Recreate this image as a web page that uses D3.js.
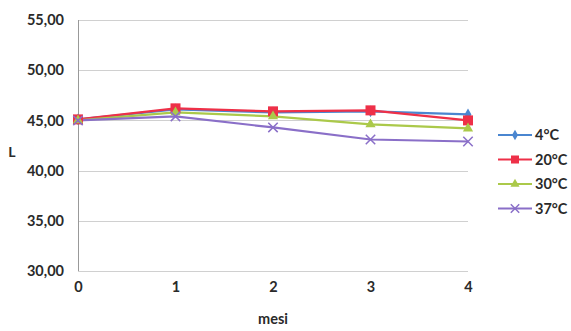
<!DOCTYPE html>
<html>
<head>
<meta charset="utf-8">
<title>L - mesi</title>
<script src="https://cdn.jsdelivr.net/npm/d3@7"></script>
<style>
  body { margin: 0; background: #fff; }
  text { font-family: Lato, "Open Sans", sans-serif; fill: #2a2a2a; font-weight: bold; }
  .tick text { font-size: 14.5px; }
  .grid line { stroke: #d0d0d0; shape-rendering: crispEdges; }
  .grid path { display: none; }
</style>
</head>
<body>
<div id="chart"></div>
<script>
// data
var months = [0, 1, 2, 3, 4];
var yTicks = [30, 35, 40, 45, 50, 55];
var labels = ["4°C", "20°C", "30°C", "37°C"];
var s4  = [45.1, 46.1, 45.8, 45.9, 45.6];
var s20 = [45.1, 46.2, 45.9, 46.0, 45.0];
var s30 = [45.0, 45.8, 45.4, 44.6, 44.2];
var s37 = [45.0, 45.4, 44.3, 43.1, 42.9];
var colors = ["#4a86d0", "#ee3048", "#abc94a", "#8a6fc8"];

var series = [s4, s20, s30, s37];

var w = 571, h = 331;
var svg = d3.select("#chart").append("svg")
  .attr("width", w).attr("height", h);

var x = d3.scaleLinear().domain([0, 4]).range([78, 468]);
var y = d3.scaleLinear().domain([30, 55]).range([271, 20]);

// horizontal grid lines
svg.append("g")
  .attr("class", "grid")
  .attr("transform", "translate(78,0)")
  .call(d3.axisLeft(y).tickValues(yTicks).tickSize(-390).tickFormat(""));

// left axis line
svg.append("line")
  .attr("x1", 78).attr("x2", 78).attr("y1", 20).attr("y2", 271)
  .attr("stroke", "#999").attr("shape-rendering", "crispEdges");

// y axis labels
var yAxis = svg.append("g")
  .attr("transform", "translate(78,0)")
  .call(d3.axisLeft(y).tickValues(yTicks).tickSize(0).tickPadding(14)
    .tickFormat(function(d) { return d3.format(".2f")(d).replace(".", ","); }));
yAxis.select(".domain").remove();

// x axis labels
var xAxis = svg.append("g")
  .attr("transform", "translate(0,271)")
  .call(d3.axisBottom(x).tickValues(months).tickSize(0).tickPadding(11)
    .tickFormat(d3.format("d")));
xAxis.select(".domain").remove();

svg.append("text").attr("x", 273).attr("y", 324)
  .attr("text-anchor", "middle").style("font-size", "14.5px").text("mesi");
svg.append("text").attr("x", 12).attr("y", 157)
  .attr("text-anchor", "middle").style("font-size", "14px").text("L");

var line = d3.line()
  .x(function(d, i) { return x(months[i]); })
  .y(function(d) { return y(d); });

function marker(g, k, cx, cy, big) {
  var c = colors[k];
  var s = big ? 1 : 0.8;
  if (k === 0) {
    g.append("path").attr("d", d3.symbol(d3.symbolDiamond, 40 * s)())
      .attr("transform", "translate(" + cx + "," + cy + ")")
      .attr("fill", c);
  } else if (k === 1) {
    g.append("rect").attr("x", cx - 5 * s).attr("y", cy - 5 * s)
      .attr("width", 10 * s).attr("height", 10 * s).attr("fill", c);
  } else if (k === 2) {
    g.append("path").attr("d", d3.symbol(d3.symbolTriangle, 45 * s)())
      .attr("transform", "translate(" + cx + "," + cy + ")")
      .attr("fill", c);
  } else {
    g.append("path").attr("d", d3.symbol(d3.symbolX, 60 * s)())
      .attr("transform", "translate(" + cx + "," + cy + ")")
      .attr("fill", "none").attr("stroke", c).attr("stroke-width", 1.5);
  }
}

series.forEach(function(vals, k) {
  svg.append("path")
    .attr("d", line(vals))
    .attr("fill", "none")
    .attr("stroke", colors[k])
    .attr("stroke-width", 2.2);
});
series.forEach(function(vals, k) {
  var g = svg.append("g");
  vals.forEach(function(v, i) { marker(g, k, x(months[i]), y(v), true); });
});

// legend
var lg = svg.append("g");
labels.forEach(function(lab, k) {
  var ly = 135 + k * 24.5;
  lg.append("line").attr("x1", 498).attr("x2", 532)
    .attr("y1", ly).attr("y2", ly)
    .attr("stroke", colors[k]).attr("stroke-width", 2);
  marker(lg, k, 515, ly, false);
  lg.append("text").attr("x", 535).attr("y", ly + 5)
    .style("font-size", "14.5px").text(lab);
});
</script>
</body>
</html>
